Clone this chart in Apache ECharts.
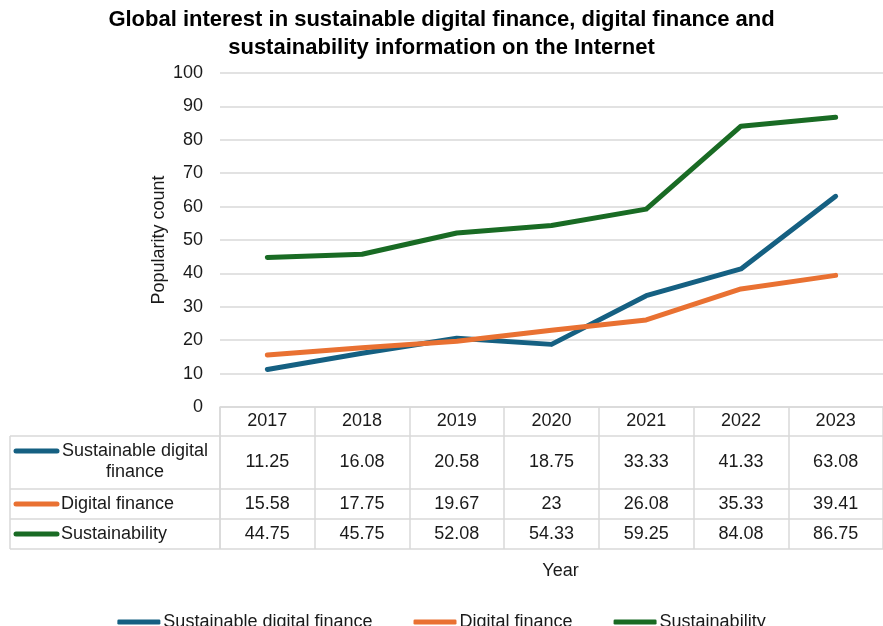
<!DOCTYPE html>
<html>
<head>
<meta charset="utf-8">
<script src="https://cdn.jsdelivr.net/npm/echarts@6/dist/echarts.min.js"></script>
<style>
  html, body { margin: 0; padding: 0; background: #fff; }
  #chart { width: 883px; height: 626px; }
</style>
</head>
<body>
<div id="chart"></div>
<script>
// Yearly popularity counts per search topic
const years = ['2017', '2018', '2019', '2020', '2021', '2022', '2023'];
const sustainableDigitalFinance = [11.25, 16.08, 20.58, 18.75, 33.33, 41.33, 63.08];
const digitalFinance = [15.58, 17.75, 19.67, 23, 26.08, 35.33, 39.41];
const sustainability = [44.75, 45.75, 52.08, 54.33, 59.25, 84.08, 86.75];
const seriesNames = ['Sustainable digital finance', 'Digital finance', 'Sustainability'];
const seriesColors = ['#156082', '#E97132', '#196B24'];

const FONT = 'Liberation Sans';
const FS = 18;
const TEXT = '#1a1a1a';
const GRID_LINE = '#D9D9D9';

// Plot area and data-table layout
const plotLeft = 220, plotTop = 73, plotBottomY = 407, width = 883, height = 626;
const headerH = 29, rowH = [53, 30, 30];
const tableLeft = 10;

const chart = echarts.init(document.getElementById('chart'), null, { renderer: 'canvas' });

function fmt(v) { return String(v); }

const option = {
  animation: false,
  backgroundColor: '#fff',
  textStyle: { fontFamily: FONT, color: TEXT },
  title: {
    text: 'Global interest in sustainable digital finance, digital finance and\nsustainability information on the Internet',
    left: 'center',
    top: 1,
    textStyle: { fontFamily: FONT, fontWeight: 'bold', fontSize: 22, lineHeight: 28, color: '#000' }
  },
  legend: {
    data: seriesNames,
    left: 'center',
    top: 608,
    icon: 'roundRect',
    itemWidth: 43,
    itemHeight: 5,
    itemGap: 41,
    textStyle: { fontFamily: FONT, fontSize: FS, color: TEXT, padding: [0, 0, 0, -2] }
  },
  grid: {
    left: plotLeft,
    right: -4,
    top: plotTop,
    bottom: height - plotBottomY
  },
  xAxis: {
    type: 'category',
    data: years,
    boundaryGap: true,
    name: 'Year',
    nameLocation: 'middle',
    nameGap: 155,
    nameMoveOverlap: false,
    nameTextStyle: { fontFamily: FONT, fontSize: FS, color: TEXT, padding: [0, 0, 0, 18] },
    axisLine: { show: true, lineStyle: { color: GRID_LINE, width: 1.5 } },
    axisTick: { show: true, interval: 0, length: headerH + rowH[0] + rowH[1] + rowH[2], lineStyle: { color: GRID_LINE, width: 1.5 } },
    axisLabel: {
      interval: 0,
      margin: 0,
      formatter: function (value, idx) {
        return '{y|' + value + '}\n{a|' + fmt(sustainableDigitalFinance[idx]) + '}\n{b|' +
          fmt(digitalFinance[idx]) + '}\n{c|' + fmt(sustainability[idx]) + '}';
      },
      rich: {
        y: { fontFamily: FONT, fontSize: FS, color: TEXT, lineHeight: headerH },
        a: { fontFamily: FONT, fontSize: FS, color: TEXT, lineHeight: rowH[0] },
        b: { fontFamily: FONT, fontSize: FS, color: TEXT, lineHeight: rowH[1] },
        c: { fontFamily: FONT, fontSize: FS, color: TEXT, lineHeight: rowH[2] }
      }
    },
    splitLine: { show: false }
  },
  yAxis: {
    type: 'value',
    min: 0,
    max: 100,
    interval: 10,
    name: 'Popularity count',
    nameLocation: 'middle',
    nameGap: 52,
    nameMoveOverlap: false,
    nameTextStyle: { fontFamily: FONT, fontSize: FS, color: TEXT },
    axisLine: { show: false },
    axisTick: { show: false },
    axisLabel: { fontFamily: FONT, fontSize: FS, color: TEXT, margin: 17 },
    splitLine: { lineStyle: { color: GRID_LINE, width: 1.5 } }
  },
  series: [
    { name: seriesNames[0], type: 'line', data: sustainableDigitalFinance, color: seriesColors[0] },
    { name: seriesNames[1], type: 'line', data: digitalFinance, color: seriesColors[1] },
    { name: seriesNames[2], type: 'line', data: sustainability, color: seriesColors[2] }
  ].map(function (s) {
    return Object.assign(s, {
      symbol: 'none',
      lineStyle: { width: 5, cap: 'round', join: 'round' },
      z: 3
    });
  })
};

chart.setOption(option);

// Data-table borders and row headers (series keys) left of the value columns
const rowTops = [];
let y = plotBottomY + headerH;
for (let i = 0; i < rowH.length; i++) { rowTops.push(y); y += rowH[i]; }
const tableBottom = y;

const graphics = [];
rowTops.concat([tableBottom]).forEach(function (ry) {
  graphics.push({
    type: 'line', silent: true,
    shape: { x1: tableLeft, y1: ry, x2: width, y2: ry },
    style: { stroke: GRID_LINE, lineWidth: 1.5 }
  });
});
graphics.push({
  type: 'line', silent: true,
  shape: { x1: tableLeft, y1: rowTops[0], x2: tableLeft, y2: tableBottom },
  style: { stroke: GRID_LINE, lineWidth: 1.5 }
});
graphics.push({
  type: 'line', silent: true,
  shape: { x1: plotLeft, y1: plotBottomY, x2: plotLeft, y2: tableBottom },
  style: { stroke: GRID_LINE, lineWidth: 1.5 }
});

const rowLabels = ['Sustainable digital\nfinance', 'Digital finance', 'Sustainability'];
rowLabels.forEach(function (label, i) {
  const keyY = i === 0 ? rowTops[0] + 15 : rowTops[i] + rowH[i] / 2;
  graphics.push({
    type: 'line', silent: true,
    shape: { x1: 16, y1: keyY, x2: 57, y2: keyY },
    style: { stroke: seriesColors[i], lineWidth: 5, lineCap: 'round' }
  });
  graphics.push({
    type: 'text', silent: true,
    x: i === 0 ? 135 : 61,
    // first row wraps onto two lines; shift so its first line centres on the key
    y: i === 0 ? keyY - 10.5 : keyY,
    style: {
      text: label,
      fontFamily: FONT, fontSize: FS, fill: TEXT,
      lineHeight: 21,
      align: i === 0 ? 'center' : 'left',
      verticalAlign: i === 0 ? 'top' : 'middle'
    }
  });
});

chart.setOption({ graphic: graphics });
</script>
</body>
</html>
